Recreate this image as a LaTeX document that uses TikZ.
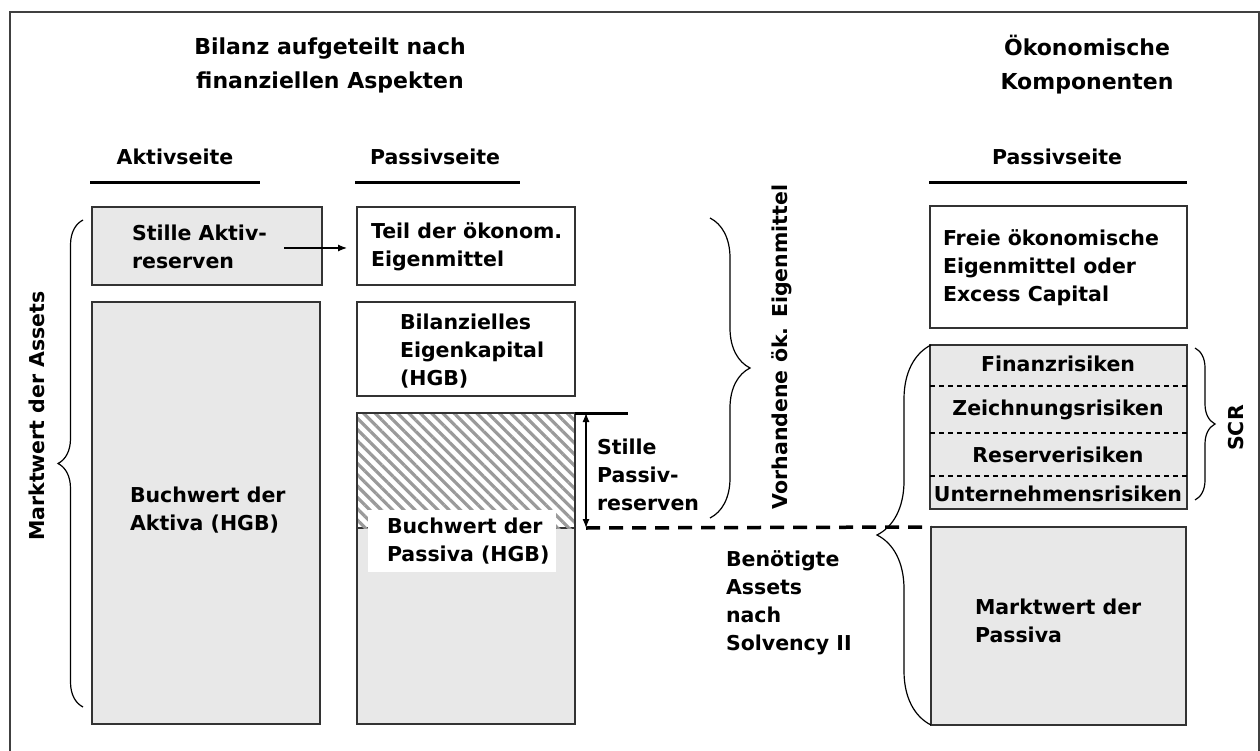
\documentclass[tikz,border=0pt]{standalone}
\usepackage{fontspec}
\setmainfont{DejaVu Sans}
\usetikzlibrary{decorations.pathreplacing,patterns.meta,arrows.meta}
\definecolor{boxgray}{HTML}{E8E8E8}
\definecolor{edge}{HTML}{333333}
\definecolor{hatchgray}{HTML}{9A9A9A}
\begin{document}
\begin{tikzpicture}[x=1pt,y=-1pt,
  every node/.style={font=\bfseries\fontsize{20.5}{28}\selectfont, inner sep=0pt, outer sep=0pt},
  box/.style={draw=edge, line width=1.6pt, anchor=north west},
  gbox/.style={box, fill=boxgray},
  lbl/.style={anchor=west, align=left},
  title/.style={align=center, font=\bfseries\fontsize{22}{34}\selectfont},
  headline/.style={line width=3pt},
  brc/.style={decorate, line width=1.2pt},
  arr/.style={line width=1.2pt, -{Latex[length=9pt,width=7pt]}},
  darr/.style={line width=1.2pt, {Latex[length=9pt,width=7pt]}-{Latex[length=9pt,width=7pt]}},
  sep/.style={draw=black, line width=1.3pt, dash pattern=on 5pt off 4pt},
  bigdash/.style={line width=3.5pt, dash pattern=on 14pt off 9pt}]
\useasboundingbox (0,0) rectangle (1260,751);
% frame
\draw[line width=1.6pt, draw=black!75] (10,770) -- (10,12) -- (1259,12) -- (1259,770);

% titles
\node[title] (t1) at (330,65) {Bilanz aufgeteilt nach\\finanziellen Aspekten};
\node[title] (t2) at (1087,65) {Ökonomische\\Komponenten};

% headers
\node (h1) at (175,157) {Aktivseite};
\node (h2) at (435,157) {Passivseite};
\node (h3) at (1057,157) {Passivseite};
\draw[headline] (90,183) -- (260,183);
\draw[headline] (355,183) -- (520,183);
\draw[headline] (929,183) -- (1187,183);

% left column
\node[gbox, minimum width=230, minimum height=78] (sa) at (92,207) {};
\node[lbl] (satxt) at (132,247) {Stille Aktiv-\\reserven};
\node[gbox, minimum width=228, minimum height=422] (ba) at (92,302) {};
\node[lbl] (batxt) at (130,510) {Buchwert der\\Aktiva (HGB)};

% middle column
\node[box, fill=white, minimum width=218, minimum height=78] (te) at (357,207) {};
\node[lbl] (tetxt) at (371,247) {Teil der ökonom.\\Eigenmittel};
\node[box, fill=white, minimum width=218, minimum height=94] (be) at (357,302) {};
\node[lbl] (betxt) at (400,351) {Bilanzielles\\Eigenkapital\\(HGB)};
\node[gbox, minimum width=218, minimum height=311] (pa) at (357,413) {};
\node[anchor=north west, minimum width=218, minimum height=115, fill=white,
      postaction={pattern={Lines[angle=-45,distance=8pt,line width=3.2pt]}, pattern color=hatchgray},
      draw=edge, line width=1.2pt] (hatch) at (357,413) {};
\draw[draw=edge, line width=1.6pt] (pa.north west) rectangle (pa.south east);
\node[anchor=north west, fill=white, minimum width=188, minimum height=62] (plbg) at (368,510) {};
\node[lbl] (pltxt) at (387,541) {Buchwert der\\Passiva (HGB)};

\coordinate (a1) at (284,248);
\draw[arr, shorten >=10pt] (a1) -- (te.west |- a1);

\coordinate (sp1) at (586,413);
\coordinate (sp2) at (586,528);
\coordinate (tl) at (628,413);
\draw[headline] (pa.north east) -- (tl);
\draw[darr] (sp1) -- (sp2);
\node[lbl] (sptxt) at (597,475) {Stille\\Passiv-\\reserven};

% Vorhandene brace
\coordinate (vb1) at (710,218);
\coordinate (vb2) at (710,518);
\draw[brc, decoration={brace, amplitude=40pt, aspect=0.5}] (vb1) -- (vb2);
\node[rotate=90] (vtxt) at (782,347) {Vorhandene ök. Eigenmittel};

% left brace
\coordinate (lb1) at (83,707);
\coordinate (lb2) at (83,220);
\draw[brc, decoration={brace, amplitude=25pt}] (lb1) -- (lb2);
\node[rotate=90] (ltxt) at (37,416) {Marktwert der Assets};

% right column
\node[box, fill=white, minimum width=257, minimum height=122] (fr) at (930,206) {};
\node[lbl] (frtxt) at (943,268) {Freie ökonomische\\Eigenmittel oder\\Excess Capital};
\node[gbox, minimum width=257, minimum height=164] (rk) at (930,345) {};
\draw[sep] (rk.west |- 0,386) -- (rk.east |- 0,386);
\draw[sep] (rk.west |- 0,433) -- (rk.east |- 0,433);
\draw[sep] (rk.west |- 0,476) -- (rk.east |- 0,476);
\node (r1) at (1058,364) {Finanzrisiken};
\node (r2) at (1058,410) {Zeichnungsrisiken};
\node (r3) at (1058,455) {Reserverisiken};
\node (r4) at (1058,494) {Unternehmensrisiken};
\node[gbox, minimum width=255, minimum height=198] (mp) at (931,527) {};
\node[lbl] (mptxt) at (975,621) {Marktwert der\\Passiva};

% SCR brace
\coordinate (sb1) at (1195,348);
\coordinate (sb2) at (1195,500);
\draw[brc, decoration={brace, amplitude=20pt}] (sb1) -- (sb2);
\node[rotate=90] (scr) at (1236,428) {SCR};

% big right brace
\coordinate (rb1) at (931,725);
\coordinate (rb2) at (931,345);
\draw[brc, decoration={brace, amplitude=54pt}] (rb1) -- (rb2);

% dashed line
\draw[bigdash] (sp2) -- (mp.north west);
\node[lbl] (bntxt) at (726,603) {Benötigte\\Assets\\nach\\Solvency II};
\end{tikzpicture}
\end{document}
